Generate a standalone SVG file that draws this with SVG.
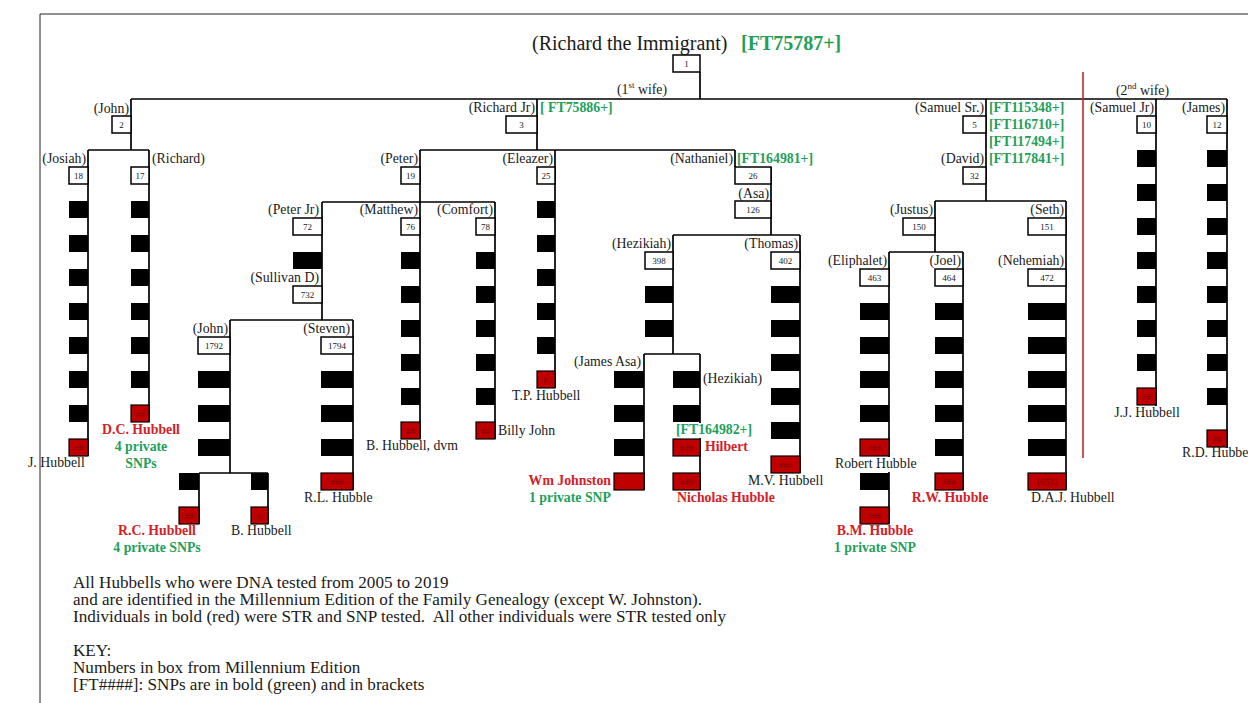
<svg xmlns="http://www.w3.org/2000/svg" width="1248" height="703" viewBox="0 0 1248 703">
<style>
  .frame{stroke:#222;stroke-width:1;fill:none}
  .ln{stroke:#000;stroke-width:1.7;fill:none}
  .div{stroke:#c0282d;stroke-width:1.6;fill:none}
  .box{fill:#fff;stroke:#000;stroke-width:1.5}
  .blk{fill:#000}
  .red{fill:#c00000;stroke:#000;stroke-width:1.2}
  .mask{fill:#fff}
  text{font-family:"Liberation Serif","Times New Roman",serif;fill:#1a1a1a}
  .num{font-size:9px;text-anchor:middle}
  .rnum{font-size:9px;text-anchor:middle;fill:#7a0000}
  .lbl{font-size:13.8px}
  .end{text-anchor:end}
  .mid{text-anchor:middle}
  .snp{font-weight:bold;fill:#22a05a}
  .tst{font-weight:bold;fill:#d42027}
  .title{font-size:20px}
  .note{font-size:17.1px}
</style>

<!-- page border -->
<path class="frame" d="M40,703 V14 H1248"/>

<!-- connectors -->
<g id="connectors">
  <path class="ln" d="M700,72 V99 M131,99 H1227"/>
  <path class="ln" d="M131,99 V150 M88,150 H149 M88,150 V456 M149,150 V422"/>
  <path class="ln" d="M537,99 V150 M420,150 H735 M420,150 V439 M555,150 V388"/>
  <path class="ln" d="M322,202 H495 M322,202 V320 M495,202 V439"/>
  <path class="ln" d="M230,320 H353 M230,320 V473 M353,320 V490 M199,473 H268 M199,473 V524 M268,473 V524"/>
  <path class="ln" d="M735,150 V167 M771,167 V235 M673,235 H800 M673,235 V354 M800,235 V473"/>
  <path class="ln" d="M644,354 H700 M644,354 V490 M700,354 V490"/>
  <path class="ln" d="M986,99 V201 M935,201 H1066 M935,201 V252 M889,252 H963 M889,252 V524 M963,252 V490 M1066,201 V490"/>
  <path class="ln" d="M1156,99 V406 M1227,99 V448"/>
  <path class="div" d="M1083,72 V458"/>
</g>

<!-- founder -->
<g id="n-richard-immigrant">
  <text class="title" x="532" y="50">(Richard the Immigrant)</text>
  <text class="title snp" x="741" y="50">[FT75787+]</text>
  <rect class="box" x="673" y="55" width="27" height="17"/>
  <text class="num" x="686.5" y="66.5">1</text>
  <text class="lbl" x="617" y="94">(1<tspan font-size="9" dy="-6">st</tspan><tspan dy="6"> wife)</tspan></text>
  <text class="lbl" x="1116" y="95">(2<tspan font-size="9" dy="-6">nd</tspan><tspan dy="6"> wife)</tspan></text>
</g>

<!-- John (2) line -->
<g id="n-john-2">
  <text class="lbl end" x="129" y="113">(John)</text>
  <rect class="box" x="112" y="116" width="19" height="17"/>
  <text class="num" x="121.5" y="127.5">2</text>
</g>
<g id="n-josiah-18">
  <text class="lbl end" x="86" y="163">(Josiah)</text>
  <rect class="box" x="69" y="167" width="19" height="17"/>
  <text class="num" x="78.5" y="178.5">18</text>
  <rect class="blk" x="69" y="201" width="19" height="17"/>
  <rect class="blk" x="69" y="235" width="19" height="17"/>
  <rect class="blk" x="69" y="269" width="19" height="17"/>
  <rect class="blk" x="69" y="303" width="19" height="17"/>
  <rect class="blk" x="69" y="337" width="19" height="17"/>
  <rect class="blk" x="69" y="371" width="19" height="17"/>
  <rect class="blk" x="69" y="405" width="19" height="17"/>
  <rect class="red" x="69" y="439" width="19" height="17"/>
  <text class="rnum" x="78.5" y="450.5">##</text>
  <text class="lbl" x="28" y="467">J. Hubbell</text>
</g>
<g id="n-richard-17">
  <text class="lbl" x="152" y="163">(Richard)</text>
  <rect class="box" x="131" y="167" width="18" height="17"/>
  <text class="num" x="140" y="178.5">17</text>
  <rect class="blk" x="131" y="201" width="18" height="17"/>
  <rect class="blk" x="131" y="235" width="18" height="17"/>
  <rect class="blk" x="131" y="269" width="18" height="17"/>
  <rect class="blk" x="131" y="303" width="18" height="17"/>
  <rect class="blk" x="131" y="337" width="18" height="17"/>
  <rect class="blk" x="131" y="371" width="18" height="17"/>
  <rect class="red" x="131" y="405" width="18" height="17"/>
  <text class="rnum" x="140" y="416.5">##</text>
  <text class="lbl tst mid" x="141" y="434">D.C. Hubbell</text>
  <text class="lbl snp mid" x="141" y="451">4 private</text>
  <text class="lbl snp mid" x="141" y="468">SNPs</text>
</g>

<!-- Richard Jr (3) line -->
<g id="n-richard-jr-3">
  <text class="lbl end" x="535" y="112">(Richard Jr)</text>
  <text class="lbl snp" x="540" y="112">[ FT75886+]</text>
  <rect class="box" x="506" y="116" width="31" height="17"/>
  <text class="num" x="521.5" y="127.5">3</text>
</g>
<g id="n-peter-19">
  <text class="lbl end" x="418" y="163">(Peter)</text>
  <rect class="box" x="401" y="167" width="19" height="17"/>
  <text class="num" x="410.5" y="178.5">19</text>
</g>
<g id="n-peter-jr-72">
  <text class="lbl end" x="319" y="214">(Peter Jr)</text>
  <rect class="box" x="293" y="218" width="29" height="17"/>
  <text class="num" x="307.5" y="229.5">72</text>
  <rect class="blk" x="293" y="252" width="29" height="17"/>
</g>
<g id="n-sullivan-732">
  <text class="lbl end" x="319" y="282">(Sullivan D)</text>
  <rect class="box" x="293" y="286" width="29" height="17"/>
  <text class="num" x="307.5" y="297.5">732</text>
</g>
<g id="n-john-1792">
  <text class="lbl end" x="228" y="333">(John)</text>
  <rect class="box" x="198" y="337" width="32" height="17"/>
  <text class="num" x="214" y="348.5">1792</text>
  <rect class="blk" x="198" y="371" width="32" height="17"/>
  <rect class="blk" x="198" y="405" width="32" height="17"/>
  <rect class="blk" x="198" y="439" width="32" height="17"/>
</g>
<g id="n-rc-hubbell">
  <rect class="blk" x="179" y="473" width="20" height="17"/>
  <rect class="red" x="179" y="507" width="20" height="17"/>
  <text class="rnum" x="189" y="518.5">##</text>
  <text class="lbl tst mid" x="157" y="535">R.C. Hubbell</text>
  <text class="lbl snp mid" x="157" y="552">4 private SNPs</text>
</g>
<g id="n-b-hubbell">
  <rect class="blk" x="251" y="473" width="17" height="17"/>
  <rect class="red" x="251" y="507" width="17" height="17"/>
  <text class="rnum" x="259.5" y="518.5">#</text>
  <text class="lbl" x="231" y="535">B. Hubbell</text>
</g>
<g id="n-steven-1794">
  <text class="lbl end" x="350" y="333">(Steven)</text>
  <rect class="box" x="321" y="337" width="32" height="17"/>
  <text class="num" x="337" y="348.5">1794</text>
  <rect class="blk" x="321" y="371" width="32" height="17"/>
  <rect class="blk" x="321" y="405" width="32" height="17"/>
  <rect class="blk" x="321" y="439" width="32" height="17"/>
  <rect class="red" x="321" y="473" width="32" height="17"/>
  <text class="rnum" x="337" y="484.5">###</text>
  <text class="lbl" x="304" y="502">R.L. Hubble</text>
</g>
<g id="n-matthew-76">
  <text class="lbl end" x="418" y="214">(Matthew)</text>
  <rect class="box" x="401" y="218" width="19" height="17"/>
  <text class="num" x="410.5" y="229.5">76</text>
  <rect class="blk" x="401" y="252" width="19" height="17"/>
  <rect class="blk" x="401" y="286" width="19" height="17"/>
  <rect class="blk" x="401" y="320" width="19" height="17"/>
  <rect class="blk" x="401" y="354" width="19" height="17"/>
  <rect class="blk" x="401" y="388" width="19" height="17"/>
  <rect class="red" x="401" y="422" width="19" height="17"/>
  <text class="rnum" x="410.5" y="433.5">##</text>
  <text class="lbl" x="366" y="450">B. Hubbell, dvm</text>
</g>
<g id="n-comfort-78">
  <text class="lbl end" x="493" y="214">(Comfort)</text>
  <rect class="box" x="476" y="218" width="19" height="17"/>
  <text class="num" x="485.5" y="229.5">78</text>
  <rect class="blk" x="476" y="252" width="19" height="17"/>
  <rect class="blk" x="476" y="286" width="19" height="17"/>
  <rect class="blk" x="476" y="320" width="19" height="17"/>
  <rect class="blk" x="476" y="354" width="19" height="17"/>
  <rect class="blk" x="476" y="388" width="19" height="17"/>
  <rect class="red" x="476" y="422" width="19" height="17"/>
  <text class="rnum" x="485.5" y="433.5">##</text>
  <text class="lbl" x="498" y="435">Billy John</text>
</g>
<g id="n-eleazer-25">
  <text class="lbl end" x="553" y="163">(Eleazer)</text>
  <rect class="box" x="537" y="167" width="18" height="17"/>
  <text class="num" x="546" y="178.5">25</text>
  <rect class="blk" x="537" y="201" width="18" height="17"/>
  <rect class="blk" x="537" y="235" width="18" height="17"/>
  <rect class="blk" x="537" y="269" width="18" height="17"/>
  <rect class="blk" x="537" y="303" width="18" height="17"/>
  <rect class="blk" x="537" y="337" width="18" height="17"/>
  <rect class="red" x="537" y="371" width="18" height="17"/>
  <text class="rnum" x="546" y="382.5">#</text>
  <text class="lbl" x="512" y="400">T.P. Hubbell</text>
</g>
<g id="n-nathaniel-26">
  <text class="lbl end" x="733" y="163">(Nathaniel)</text>
  <text class="lbl snp" x="737" y="163">[FT164981+]</text>
  <rect class="box" x="735" y="167" width="36" height="17"/>
  <text class="num" x="753" y="178.5">26</text>
</g>
<g id="n-asa-126">
  <text class="lbl end" x="769" y="198">(Asa)</text>
  <rect class="box" x="735" y="201" width="36" height="17"/>
  <text class="num" x="753" y="212.5">126</text>
</g>
<g id="n-hezikiah-398">
  <text class="lbl end" x="671" y="248">(Hezikiah)</text>
  <rect class="box" x="645" y="252" width="28" height="17"/>
  <text class="num" x="659" y="263.5">398</text>
  <rect class="blk" x="645" y="286" width="28" height="17"/>
  <rect class="blk" x="645" y="320" width="28" height="17"/>
</g>
<g id="n-james-asa">
  <text class="lbl end" x="641" y="366">(James Asa)</text>
  <rect class="blk" x="614" y="371" width="30" height="17"/>
  <rect class="blk" x="614" y="405" width="30" height="17"/>
  <rect class="blk" x="614" y="439" width="30" height="17"/>
  <rect class="red" x="614" y="473" width="30" height="17"/>
  <text class="lbl tst end" x="611" y="485">Wm Johnston</text>
  <text class="lbl snp end" x="611" y="502">1 private SNP</text>
</g>
<g id="n-hezikiah-jr">
  <text class="lbl" x="703" y="383">(Hezikiah)</text>
  <rect class="blk" x="673" y="371" width="27" height="17"/>
  <rect class="blk" x="673" y="405" width="27" height="17"/>
  <rect class="mask" x="675" y="423" width="68" height="15"/>
  <text class="lbl snp" x="676" y="434">[FT164982+]</text>
  <rect class="red" x="673" y="439" width="27" height="17"/>
  <text class="rnum" x="686.5" y="450.5">###</text>
  <text class="lbl tst" x="705" y="451">Hilbert</text>
  <rect class="red" x="673" y="473" width="27" height="17"/>
  <text class="rnum" x="686.5" y="484.5">###</text>
  <text class="lbl tst" x="677" y="502">Nicholas Hubble</text>
</g>
<g id="n-thomas-402">
  <text class="lbl end" x="798" y="248">(Thomas)</text>
  <rect class="box" x="771" y="252" width="29" height="17"/>
  <text class="num" x="785.5" y="263.5">402</text>
  <rect class="blk" x="771" y="286" width="29" height="17"/>
  <rect class="blk" x="771" y="320" width="29" height="17"/>
  <rect class="blk" x="771" y="354" width="29" height="17"/>
  <rect class="blk" x="771" y="388" width="29" height="17"/>
  <rect class="blk" x="771" y="422" width="29" height="17"/>
  <rect class="red" x="771" y="456" width="29" height="17"/>
  <text class="rnum" x="785.5" y="467.5">###</text>
  <text class="lbl" x="748" y="485">M.V. Hubbell</text>
</g>

<!-- Samuel Sr. (5) line -->
<g id="n-samuel-sr-5">
  <text class="lbl end" x="984" y="112">(Samuel Sr.)</text>
  <rect class="box" x="963" y="116" width="23" height="17"/>
  <text class="num" x="974.5" y="127.5">5</text>
  <text class="lbl snp" x="989" y="112">[FT115348+]</text>
  <text class="lbl snp" x="989" y="129">[FT116710+]</text>
  <text class="lbl snp" x="989" y="146">[FT117494+]</text>
  <text class="lbl snp" x="989" y="163">[FT117841+]</text>
</g>
<g id="n-david-32">
  <text class="lbl end" x="984" y="163">(David)</text>
  <rect class="box" x="963" y="167" width="23" height="17"/>
  <text class="num" x="974.5" y="178.5">32</text>
</g>
<g id="n-justus-150">
  <text class="lbl end" x="933" y="214">(Justus)</text>
  <rect class="box" x="903" y="218" width="32" height="17"/>
  <text class="num" x="919" y="229.5">150</text>
</g>
<g id="n-eliphalet-463">
  <text class="lbl end" x="887" y="265">(Eliphalet)</text>
  <rect class="box" x="860" y="269" width="29" height="17"/>
  <text class="num" x="874.5" y="280.5">463</text>
  <rect class="blk" x="860" y="303" width="29" height="17"/>
  <rect class="blk" x="860" y="337" width="29" height="17"/>
  <rect class="blk" x="860" y="371" width="29" height="17"/>
  <rect class="blk" x="860" y="405" width="29" height="17"/>
  <rect class="red" x="860" y="439" width="29" height="17"/>
  <text class="rnum" x="874.5" y="450.5">###</text>
  <rect class="mask" x="834" y="457" width="84" height="15"/>
  <text class="lbl" x="835" y="468">Robert Hubble</text>
  <rect class="blk" x="860" y="473" width="29" height="17"/>
  <rect class="red" x="860" y="507" width="29" height="17"/>
  <text class="rnum" x="874.5" y="518.5">###</text>
  <text class="lbl tst mid" x="875" y="535">B.M. Hubble</text>
  <text class="lbl snp mid" x="875" y="552">1 private SNP</text>
</g>
<g id="n-joel-464">
  <text class="lbl end" x="961" y="265">(Joel)</text>
  <rect class="box" x="935" y="269" width="28" height="17"/>
  <text class="num" x="949" y="280.5">464</text>
  <rect class="blk" x="935" y="303" width="28" height="17"/>
  <rect class="blk" x="935" y="337" width="28" height="17"/>
  <rect class="blk" x="935" y="371" width="28" height="17"/>
  <rect class="blk" x="935" y="405" width="28" height="17"/>
  <rect class="blk" x="935" y="439" width="28" height="17"/>
  <rect class="red" x="935" y="473" width="28" height="17"/>
  <text class="rnum" x="949" y="484.5">###</text>
  <text class="lbl tst mid" x="950" y="502">R.W. Hubble</text>
</g>
<g id="n-seth-151">
  <text class="lbl end" x="1064" y="214">(Seth)</text>
  <rect class="box" x="1028" y="218" width="38" height="17"/>
  <text class="num" x="1047" y="229.5">151</text>
</g>
<g id="n-nehemiah-472">
  <text class="lbl end" x="1064" y="265">(Nehemiah)</text>
  <rect class="box" x="1028" y="269" width="38" height="17"/>
  <text class="num" x="1047" y="280.5">472</text>
  <rect class="blk" x="1028" y="303" width="38" height="17"/>
  <rect class="blk" x="1028" y="337" width="38" height="17"/>
  <rect class="blk" x="1028" y="371" width="38" height="17"/>
  <rect class="blk" x="1028" y="405" width="38" height="17"/>
  <rect class="blk" x="1028" y="439" width="38" height="17"/>
  <rect class="red" x="1028" y="473" width="38" height="17"/>
  <text class="rnum" x="1047" y="485">16532</text>
  <text class="lbl" x="1031" y="502">D.A.J. Hubbell</text>
</g>

<!-- second marriage -->
<g id="n-samuel-jr-10">
  <text class="lbl end" x="1154" y="112">(Samuel Jr)</text>
  <rect class="box" x="1137" y="116" width="19" height="17"/>
  <text class="num" x="1146.5" y="127.5">10</text>
  <rect class="blk" x="1137" y="150" width="19" height="17"/>
  <rect class="blk" x="1137" y="184" width="19" height="17"/>
  <rect class="blk" x="1137" y="218" width="19" height="17"/>
  <rect class="blk" x="1137" y="252" width="19" height="17"/>
  <rect class="blk" x="1137" y="286" width="19" height="17"/>
  <rect class="blk" x="1137" y="320" width="19" height="17"/>
  <rect class="blk" x="1137" y="354" width="19" height="17"/>
  <rect class="red" x="1137" y="388" width="19" height="17"/>
  <text class="rnum" x="1146.5" y="399.5">##</text>
  <text class="lbl mid" x="1147" y="417">J.J. Hubbell</text>
</g>
<g id="n-james-12">
  <text class="lbl end" x="1225" y="112">(James)</text>
  <rect class="box" x="1207" y="116" width="20" height="17"/>
  <text class="num" x="1217" y="127.5">12</text>
  <rect class="blk" x="1207" y="150" width="20" height="17"/>
  <rect class="blk" x="1207" y="184" width="20" height="17"/>
  <rect class="blk" x="1207" y="218" width="20" height="17"/>
  <rect class="blk" x="1207" y="252" width="20" height="17"/>
  <rect class="blk" x="1207" y="286" width="20" height="17"/>
  <rect class="blk" x="1207" y="320" width="20" height="17"/>
  <rect class="blk" x="1207" y="354" width="20" height="17"/>
  <rect class="blk" x="1207" y="388" width="20" height="17"/>
  <rect class="red" x="1207" y="430" width="20" height="17"/>
  <text class="rnum" x="1217" y="441.5">##</text>
  <text class="lbl" x="1182" y="457">R.D. Hubbe</text>
</g>

<!-- notes and key -->
<g id="notes">
  <text class="note" x="73" y="588">All Hubbells who were DNA tested from 2005 to 2019</text>
  <text class="note" x="73" y="605">and are identified in the Millennium Edition of the Family Genealogy (except W. Johnston).</text>
  <text class="note" x="73" y="622">Individuals in bold (red) were STR and SNP tested.&#160; All other individuals were STR tested only</text>
  <text class="note" x="73" y="656">KEY:</text>
  <text class="note" x="73" y="673">Numbers in box from Millennium Edition</text>
  <text class="note" x="73" y="690">[FT####]: SNPs are in bold (green) and in brackets</text>
</g>
</svg>
